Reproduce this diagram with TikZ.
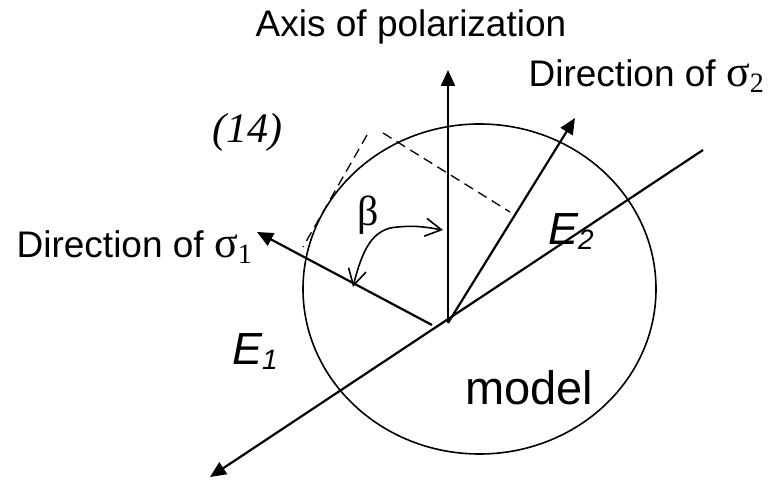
\documentclass[tikz,border=0pt]{standalone}
\usepackage{fontspec}
\setmainfont{Liberation Sans}
\newfontfamily\serif{Liberation Serif}
\usetikzlibrary{arrows.meta}
\newcommand{\sigmasub}[1]{{\serif\fontsize{44}{50}\selectfont σ\raisebox{-6pt}{\fontsize{28}{28}\selectfont #1}}}
\newcommand{\Esub}[1]{\textit{E\raisebox{-5pt}{\fontsize{28}{28}\selectfont #1}}}

\begin{document}
\begin{tikzpicture}[x=1pt, y=1pt,
    axis/.style={line width=2.2pt, -{Triangle[length=16pt,width=14pt]}},
    guide/.style={line width=1.3pt, dash pattern=on 10pt off 6pt},
    turn/.style={line width=1.6pt, {Straight Barb[length=16pt,width=18pt]}-{Straight Barb[length=16pt,width=18pt]}},
    lbl/.style={inner sep=0pt, font=\fontsize{37}{44}\selectfont}]
  \useasboundingbox (0,0) rectangle (778,486);
  % points of the sketch
  \coordinate (O) at (448,163);
  \coordinate (C) at (479.5,197);
  \coordinate (axtip) at (448,416);
  \coordinate (s2tip) at (575,368);
  \coordinate (s1start) at (432,161);
  \coordinate (s1tip) at (257,254);
  \coordinate (Elow) at (210,9);
  \coordinate (Ehigh) at (703,336);
  \coordinate (d1a) at (367,351);
  \coordinate (d1b) at (303,239);
  \coordinate (d2a) at (383,353);
  \coordinate (d2b) at (510,274);
  \coordinate (b1) at (353,199);
  \coordinate (b2) at (443,256);

  \draw[line width=1.6pt] (C) ellipse [x radius=176.5, y radius=165];
  \draw[axis] (O) -- (axtip);
  \draw[axis] (O) -- (s2tip);
  \draw[axis] (s1start) -- (s1tip);
  \draw[axis] (Ehigh) -- (Elow);
  \draw[guide] (d1a) -- (d1b);
  \draw[guide] (d2a) -- (d2b);
  \draw[turn] (b1) .. controls (362,235) and (372,258) .. (398,259)
    .. controls (418,261) and (430,258) .. (b2);

  \node[lbl, anchor=base] (axis) at (411,449) {Axis of polarization};
  \node[lbl, anchor=base east] (dir2) at (764,399) {Direction of \sigmasub{2}};
  \node[lbl, anchor=base east] (dir1) at (252,228) {Direction of \sigmasub{1}};
  \node[inner sep=0pt, anchor=base west, font=\fontsize{47}{56}\selectfont] (model) at (465,81) {model};
  \node[inner sep=0pt, anchor=base west, font=\fontsize{45}{54}\selectfont] (E1) at (232,121) {\Esub{1}};
  \node[inner sep=0pt, anchor=base west, font=\fontsize{45}{54}\selectfont] (E2) at (548,241) {\Esub{2}};
  \node[inner sep=0pt, anchor=base west, font=\serif\itshape\fontsize{42}{50}\selectfont] (eq) at (212,343) {(14)};
  \node[inner sep=0pt, anchor=base west, font=\serif\fontsize{42}{50}\selectfont] (beta) at (357,260) {β};
\end{tikzpicture}
\end{document}
